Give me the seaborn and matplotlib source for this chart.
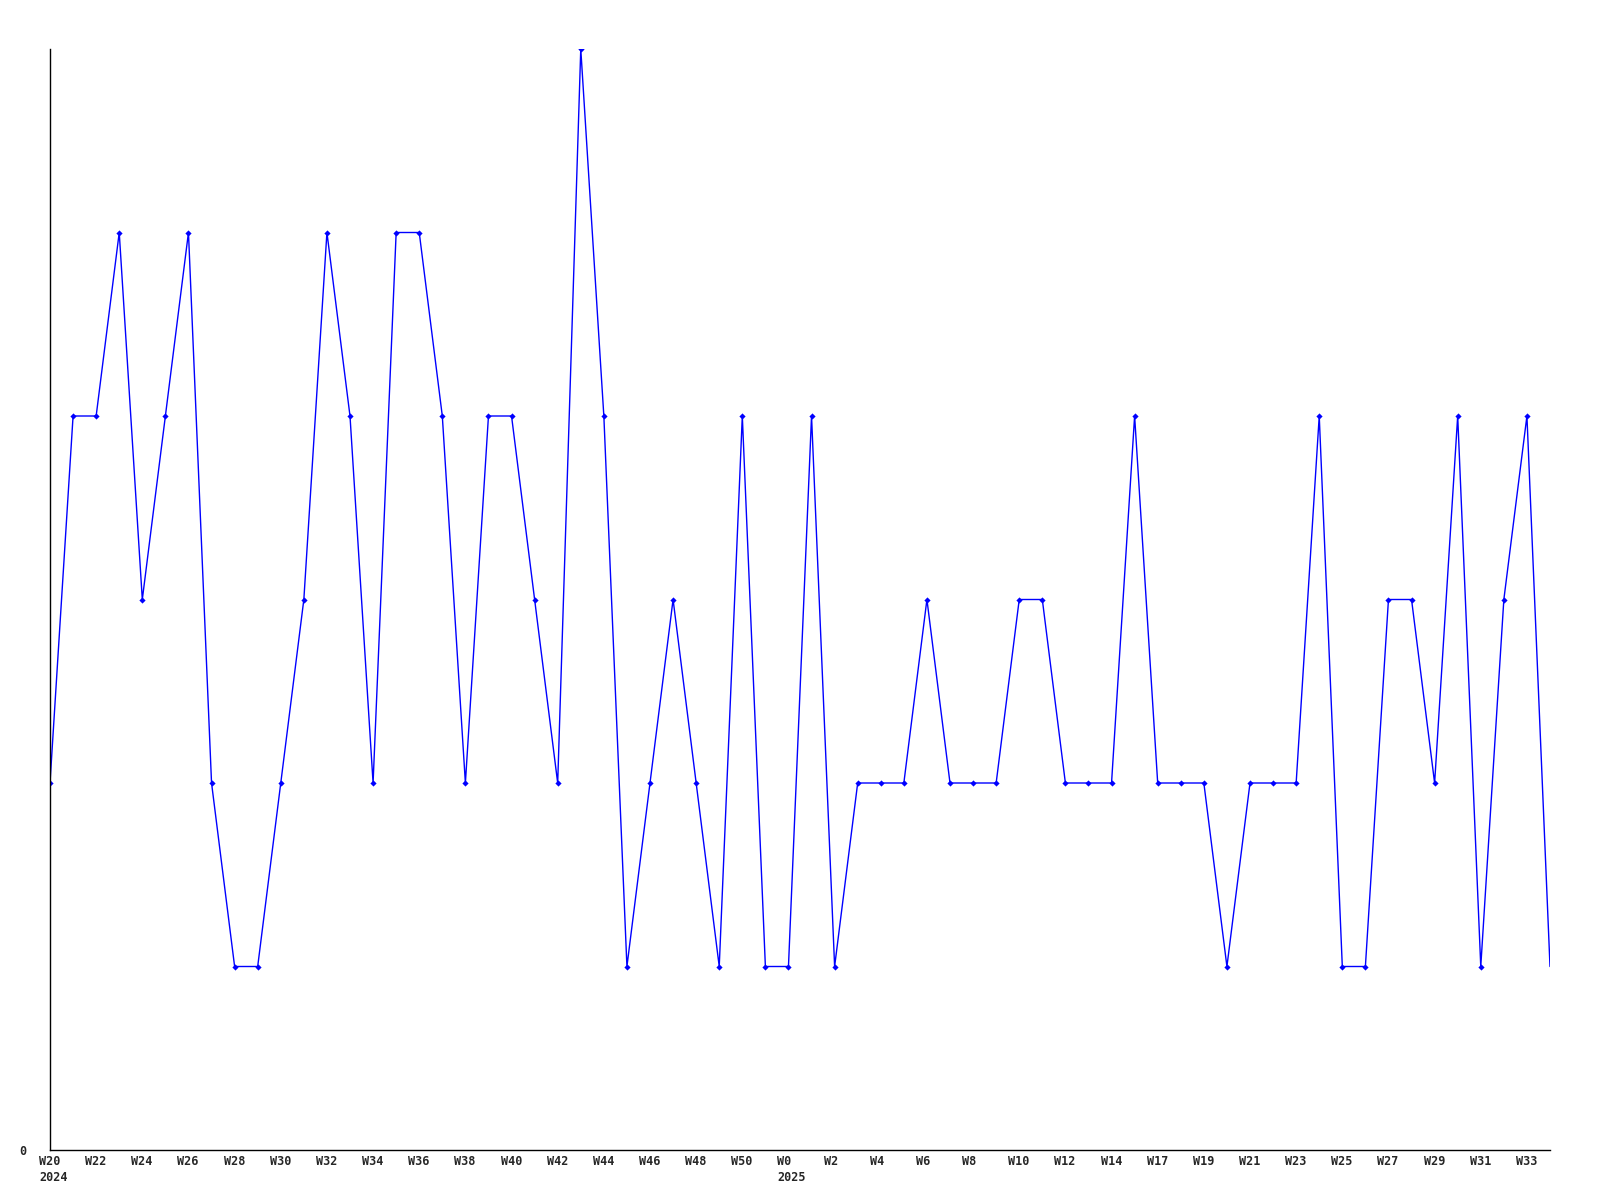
import pandas as pd
import matplotlib.pyplot as plt
import matplotlib.transforms as mtransforms
import seaborn as sns

sns.set_style("white")
plt.rcParams['font.family'] = ['DejaVu Sans Mono']

# weekly counts, 2024 W20 through 2025 W34
weeks = (["W%d" % w for w in range(20, 52)]
         + ["W%d" % w for w in range(0, 15)]
         + ["W16"]
         + ["W%d" % w for w in range(17, 35)])
years = {0: "2024", 32: "2025"}
counts = [2, 4, 4, 5, 3, 4, 5, 2, 1, 1,
          2, 3, 5, 4, 2, 5, 5, 4, 2, 4,
          4, 3, 2, 6, 4, 1, 2, 3, 2, 1,
          4, 1, 1, 4, 1, 2, 2, 2, 3, 2,
          2, 2, 3, 3, 2, 2, 2, 4, 2, 2,
          2, 1, 2, 2, 2, 4, 1, 1, 3, 3,
          2, 4, 1, 3, 4, 1]

df = pd.DataFrame({"pos": range(len(counts)), "week": weeks, "count": counts})

fig = plt.figure(figsize=(16, 12), dpi=100)
ax = fig.add_axes([50 / 1600, 1 - 1150 / 1200, 1500 / 1600, 1101 / 1200])

sns.lineplot(data=df, x="pos", y="count", color="#0000ff", linewidth=1, ax=ax)
# the last week has no marker
sns.scatterplot(data=df.iloc[:-1], x="pos", y="count", color="#0000ff",
                marker="D", s=10, edgecolor="#0000ff", linewidth=0, ax=ax)

ax.set_xlim(0, len(counts) - 1)
ax.set_ylim(0, 6)

# every second week labelled, left-aligned a little before the point,
# year under the first week of each year
ax.set_xticks([])
shift = mtransforms.ScaledTranslation(-11 / 100, -5 / 100, fig.dpi_scale_trans)
trans = mtransforms.blended_transform_factory(ax.transData, ax.transAxes) + shift
for i in range(0, len(counts) - 1, 2):
    lab = weeks[i] + ("\n" + years[i] if i in years else "")
    ax.text(i, 0, lab, transform=trans, ha="left", va="top", fontsize=8.5,
            fontweight="bold", linespacing=1.3)

ax.set_yticks([0])
ax.set_yticklabels(["0"], fontsize=8.5, fontweight="bold")
ax.tick_params(axis="y", length=0, pad=17)

ax.set_xlabel("")
ax.set_ylabel("")
sns.despine(ax=ax)
for s in ["left", "bottom"]:
    ax.spines[s].set_color("black")
    ax.spines[s].set_linewidth(1)

fig.savefig("out.png", dpi=100, facecolor="white")
